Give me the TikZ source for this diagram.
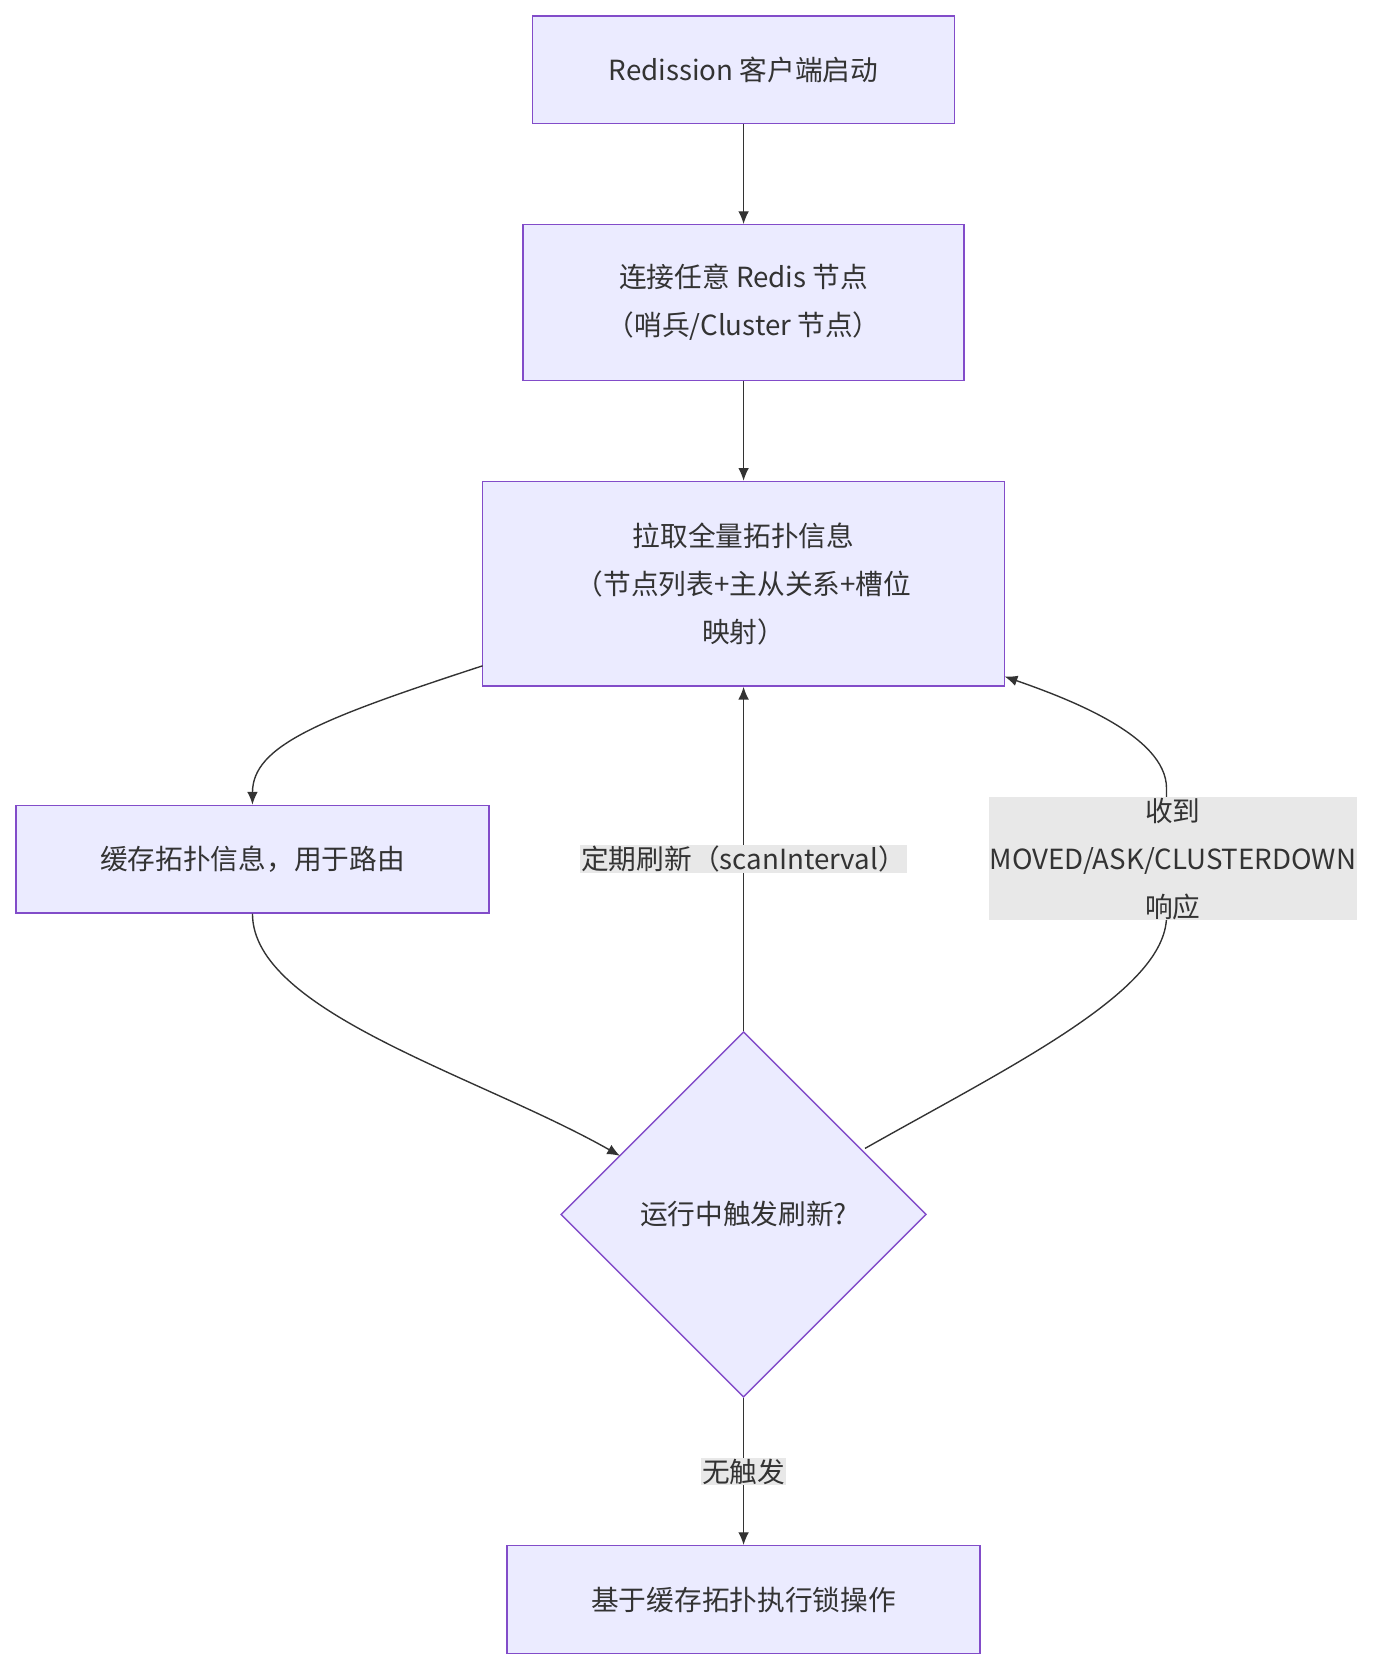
\documentclass[tikz,border=0pt]{standalone}
\usepackage{fontspec}
\setmainfont{Noto Sans CJK SC}
\usetikzlibrary{shapes.geometric,arrows.meta}
\begin{document}
\begin{tikzpicture}[x=1pt,y=-1pt,
 box/.style={draw=violet!60!blue!70!white,line width=1.3pt,fill=blue!8,align=center,font=\fontsize{26}{45}\selectfont,text=black!80,inner sep=0},
 lbl/.style={fill=black!9,align=center,font=\fontsize{26}{45}\selectfont,text=black!80,inner sep=1pt},
 ar/.style={draw=black!80,line width=1.3pt,-{Latex[length=12pt,width=10pt]}}]
\useasboundingbox (0,0) rectangle (1305,1562);
\node[box,minimum width=396,minimum height=101] (A) at (698,65.5) {Redission 客户端启动};
\node[box,minimum width=414,minimum height=146] (B) at (698,284) {连接任意 Redis 节点\\（哨兵/Cluster 节点）};
\node[box,minimum width=490,minimum height=192] (C) at (698,548) {拉取全量拓扑信息\\（节点列表+主从关系+槽位\\映射）};
\node[box,minimum width=444,minimum height=101] (D) at (237,806.5) {缓存拓扑信息，用于路由};
\node[box,diamond,minimum width=343,minimum height=343] (E) at (698,1140) {运行中触发刷新?};
\node[box,minimum width=444,minimum height=101] (F) at (698,1501.5) {基于缓存拓扑执行锁操作};
\coordinate (c1) at (453,625);
\coordinate (e1) at (582,1085);
\coordinate (e2) at (812,1078);
\coordinate (c2) at (943,635);
\draw[ar] (A) -- (B);
\draw[ar] (B) -- (C);
\draw[ar] (c1) .. controls (300,675) and (237,700) .. (D.north);
\draw[ar] (D.south) .. controls (237,950) and (450,1010) .. (e1);
\draw[ar] (E.north) -- node[lbl]{定期刷新（scanInterval）} (C.south);
\draw[ar] (e2) .. controls (950,1000) and (1095,930) .. (1095,860) -- (1095,740) .. controls (1095,690) and (1000,655) .. (c2);
\node[lbl] (L) at (1101,806) {收到\\MOVED/ASK/CLUSTERDOWN\\响应};
\draw[ar] (E.south) -- node[lbl]{无触发} (F.north);
\end{tikzpicture}
\end{document}
